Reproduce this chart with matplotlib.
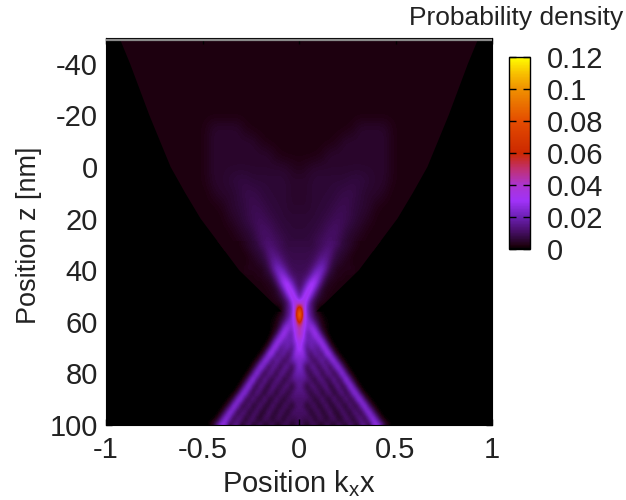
#!/usr/bin/env python
"""Probability density map, position k_x x against position z."""
import matplotlib
matplotlib.use("Agg")
import matplotlib.pyplot as plt
import numpy as np
from matplotlib.colors import LinearSegmentedColormap
from matplotlib.patches import Polygon

plt.rcParams["font.family"] = ["Liberation Sans", "DejaVu Sans"]
plt.rcParams["mathtext.fontset"] = "custom"
plt.rcParams["mathtext.rm"] = "Liberation Sans"
plt.rcParams["axes.unicode_minus"] = False

# values below are in units of 0.001, half plane x >= 0
X_UPPER_STEP = 0.04
Z_UPPER = list(range(-50, 35, 5))
UPPER = [
    [2],
    [2],
    [2],
    [2],
    [2],
    [2],
    [2],
    [2, 2, 2, 2, 2, 2, 2, 3, 5, 5, 5, 5, 3],
    [2, 2, 2, 2, 2, 3, 5, 5, 5, 5, 5, 5, 3],
    [2, 2, 2, 3, 5, 5, 5, 5, 5, 5, 5, 5, 3],
    [3, 4, 5, 5, 5, 5, 5, 5, 5, 5, 5, 5, 3],
    [5, 5, 6, 6, 6, 6, 6, 7, 7, 6, 5, 5, 3],
    [5, 5, 6, 6, 6, 7, 8, 8, 6, 5, 5, 4],
    [5, 5, 6, 6, 7, 8, 9, 7, 6, 5, 3],
    [6, 6, 6, 7, 8, 10, 9, 7, 5, 4],
    [6, 6, 7, 8, 11, 11, 7, 5, 4],
    [7, 7, 8, 11, 12, 9, 5, 4],
]

X_LOWER_STEP = 0.02
Z_LOWER = [30, 32.5, 35, 37.5, 40, 42.5, 45, 47.5,
           50, 52.5, 55, 57.5, 60, 62.5, 65, 67.5, 70, 72.5, 75,
           77.5, 80, 82.5, 85, 87.5, 90, 92.5, 95, 97.5, 100]
LOWER = [
    [7, 7, 7, 7, 8, 9, 10, 11, 12, 11, 10, 7, 6, 5, 4, 3],
    [8, 8, 8, 8, 9, 10, 12, 14, 13, 10, 7, 6, 5, 4, 3],
    [8, 8, 8, 9, 10, 13, 15, 15, 12, 8, 6, 5, 4, 3],
    [9, 9, 9, 10, 13, 17, 19, 16, 10, 6, 5, 4, 3, 3],
    [9, 9, 10, 13, 19, 23, 22, 14, 7, 5, 3, 3, 3, 3, 3],
    [10, 11, 13, 20, 27, 26, 16, 8, 5, 4, 3, 3],
    [10, 13, 22, 32, 32, 20, 10, 5, 3, 3],
    [12, 20, 32, 34, 22, 11, 5, 3, 3],
    [16, 30, 36, 24, 12, 6, 4, 3],
    [30, 38, 26, 12, 7, 4, 3],
    [85, 42, 20, 14, 6],
    [118, 42, 24, 14, 7, 3, 1],
    [72, 36, 26, 22, 12, 6, 2, 1],
    [42, 36, 22, 30, 26, 10, 3, 1],
    [50, 32, 18, 20, 32, 26, 9, 2],
    [34, 28, 20, 20, 18, 31, 28, 9, 1],
    [36, 24, 13, 22, 17, 13, 31, 28, 8, 1],
    [26, 29, 15, 9, 20, 16, 10, 31, 30, 9, 1],
    [24, 22, 20, 13, 7, 17, 19, 7, 25, 31, 12, 2],
    [26, 16, 6, 17, 16, 5, 16, 18, 5, 20, 32, 15, 3],
    [19, 21, 11, 6, 16, 16, 4, 15, 18, 4, 15, 32, 16, 3],
    [16, 16, 15, 11, 4, 14, 16, 4, 10, 20, 5, 12, 32, 19, 4],
    [17, 12, 4, 14, 13, 4, 12, 16, 3, 9, 19, 5, 11, 31, 21, 4],
    [14, 15, 11, 4, 12, 13, 3, 11, 15, 3, 9, 18, 5, 11, 30, 24, 5],
    [11, 12, 12, 11, 3, 9, 14, 4, 6, 16, 5, 6, 17, 7, 8, 28, 28, 8, 1],
    [13, 10, 3, 10, 12, 3, 8, 14, 4, 5, 15, 8, 3, 16, 8, 5, 24, 30, 11, 2],
    [10, 12, 11, 3, 9, 12, 3, 8, 14, 4, 4, 14, 9, 3, 15, 12, 4, 21, 30, 15, 3],
    [11, 8, 9, 11, 3, 9, 11, 3, 8, 13, 4, 4, 14, 9, 3, 14, 15, 4, 20, 30, 18, 4],
    [10, 8, 3, 9, 11, 5, 3, 12, 7, 3, 12, 9, 3, 13, 10, 3, 15, 17, 4, 22, 30, 22, 8, 2],
]

# sharp outer edge of the dark red region, half width against z
Z_EDGE = [-50, -40, -30, -20, -10, 0, 10, 20, 30, 40, 48, 56, 57, 100]
X_EDGE = [0.93, 0.875, 0.825, 0.775, 0.72, 0.665, 0.59, 0.51, 0.41, 0.31, 0.2, 0.09, 0.6, 0.6]

CBAR_TICKS = [0, 0.02, 0.04, 0.06, 0.08, 0.1, 0.12]
CBAR_LABELS = ["0", "0.02", "0.04", "0.06", "0.08", "0.1", "0.12"]
X_TICKS = [-1, -0.5, 0, 0.5, 1]
X_LABELS = ["-1", "-0.5", "0", "0.5", "1"]
Z_TICKS = [-40, -20, 0, 20, 40, 60, 80, 100]

cmap = LinearSegmentedColormap.from_list("density", [
    (0.0, "#000000"),
    (0.002 / 0.12, "#1f0010"),
    (0.006 / 0.12, "#2e0838"),
    (0.012 / 0.12, "#4c1070"),
    (0.02 / 0.12, "#6c20b4"),
    (0.03 / 0.12, "#a032f8"),
    (0.04 / 0.12, "#ac34d0"),
    (0.05 / 0.12, "#c03070"),
    (0.06 / 0.12, "#cc2800"),
    (0.08 / 0.12, "#e44c00"),
    (0.1 / 0.12, "#f09000"),
    (0.11 / 0.12, "#f8c000"),
    (1.0, "#ffff00"),
])


def full_plane(rows, zs, n):
    """Pad rows to n columns and mirror them around x = 0."""
    # inside the envelope the background is level 2, below the waist it is 0
    arr = np.array([r + [2 if z <= 52.5 else 0] * (n - len(r)) for r, z in zip(rows, zs)],
                   dtype=float) / 1000
    return np.hstack([arr[:, :0:-1], arr])


fig = plt.figure(figsize=(6.26, 5), dpi=100, facecolor="white")
ax = fig.add_axes([106 / 626, 1 - 425 / 500, 386 / 626, 387 / 500], facecolor="black")

upper = full_plane(UPPER, Z_UPPER, 26)
lower = full_plane(LOWER, Z_LOWER, 26)
xu = 25 * X_UPPER_STEP + X_UPPER_STEP / 2
xl = 25 * X_LOWER_STEP + X_LOWER_STEP / 2
im = ax.imshow(upper, extent=[-xu, xu, Z_UPPER[-1] + 2.5, Z_UPPER[0] - 2.5], aspect="auto",
               cmap=cmap, vmin=0, vmax=0.12, interpolation="bicubic")
im_low = ax.imshow(lower, extent=[-xl, xl, Z_LOWER[-1] + 1.25, Z_LOWER[0] - 1.25], aspect="auto",
                   cmap=cmap, vmin=0, vmax=0.12, interpolation="bicubic")

ax.set_xlim(-1, 1)
ax.set_ylim(100, -50)

edge = Polygon(np.column_stack([X_EDGE + [-v for v in X_EDGE[::-1]], Z_EDGE + Z_EDGE[::-1]]),
               transform=ax.transData)
im.set_clip_path(edge)
im_low.set_clip_path(edge)

ax.set_xticks(X_TICKS)
ax.set_xticklabels(X_LABELS)
ax.set_yticks(Z_TICKS)
ax.tick_params(direction="in", length=4, width=1, labelsize=21, color="black",
               top=True, right=True, pad=6, labelcolor="#222222")
ax.tick_params(axis="x", pad=8)
ax.axhline(-49.3, color="#8a8a8a", lw=1.6, zorder=3)
ax.set_xlabel("Position k$_{\\mathregular{x}}$x", fontsize=21, labelpad=3, color="#222222")
ax.set_ylabel("Position z [nm]", fontsize=19.5, color="#222222")
ax.yaxis.set_label_coords(-0.165, 0.49)

cax = fig.add_axes([509 / 626, 1 - 249 / 500, 21 / 626, 192 / 500])
cb = fig.colorbar(im, cax=cax)
cb.set_ticks(CBAR_TICKS)
cb.set_ticklabels(CBAR_LABELS)
cax.tick_params(direction="in", length=5, width=1, labelsize=21, color="black",
                left=True, right=True, pad=12, labelcolor="#222222")
cb.outline.set_linewidth(1)

fig.text(623 / 626, 1 - 18 / 500, "Probability density", ha="right", va="center",
         fontsize=19, color="#222222")

fig.savefig("out.png", dpi=100)
